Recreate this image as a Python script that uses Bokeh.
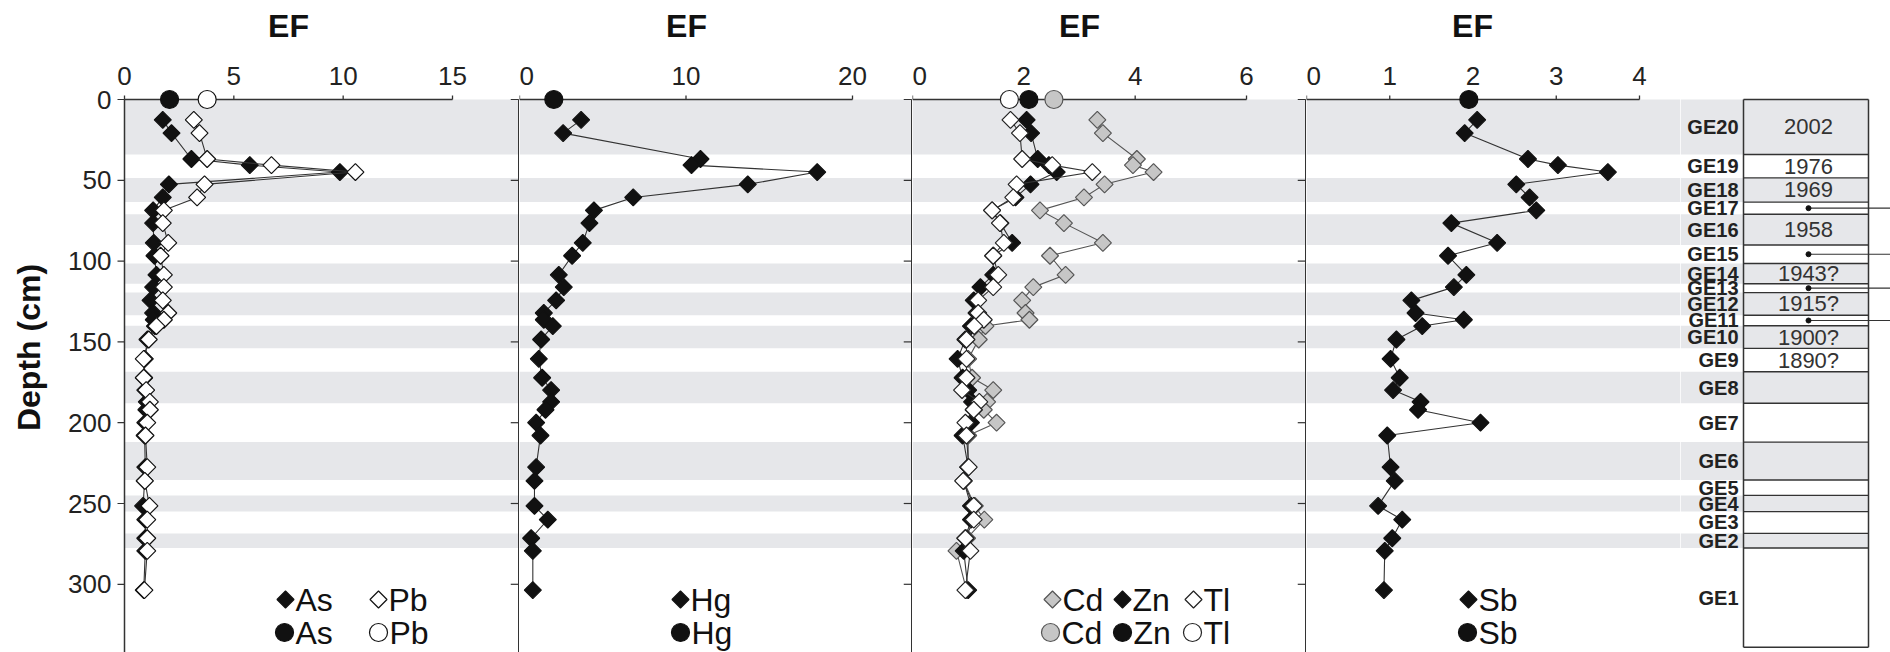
import math
from bokeh.plotting import figure
from bokeh.models import Range1d, LinearAxis, FixedTicker, Spacer
from bokeh.layouts import row, column
from bokeh.embed import file_html
from bokeh.resources import INLINE
from bokeh.core.properties import value

# ---------------- data ----------------
depth_cm = [12.6, 20.8, 36.8, 40.6, 44.9, 52.5, 60.6, 68.6, 76.5, 88.7, 96.7, 108.5,
            116.1, 124.3, 132.1, 136.3, 140.2, 148.5, 160.5, 172.2, 179.8, 187.1,
            192.0, 200.0, 207.9, 227.5, 236.0, 251.5, 260.0, 271.5, 279.3, 303.6]

ef_as = [1.75, 2.15, 3.06, 5.73, 9.85, 2.03, 1.75, 1.31, 1.31, 1.34, 1.37, 1.46,
         1.31, 1.19, 1.31, 1.34, 1.39, 1.05, 0.93, 0.90, 0.95, 1.02, 1.00, 0.95,
         0.92, 0.95, 0.92, 0.85, 0.95, 0.95, 0.95, 0.88]
ef_pb = [3.17, 3.43, 3.78, 6.72, 10.56, 3.66, 3.32, 1.80, 1.75, 2.00, 1.65, 1.80,
         1.80, 1.75, 2.00, 1.80, 1.46, 1.11, 0.88, 0.88, 0.99, 1.16, 1.16, 1.04,
         0.96, 1.04, 0.93, 1.14, 1.04, 1.04, 1.04, 0.91]
ef_hg = [3.70, 2.62, 10.87, 10.33, 17.88, 13.71, 6.83, 4.47, 4.20, 3.80, 3.16, 2.36,
         2.66, 2.20, 1.46, 1.46, 2.00, 1.30, 1.16, 1.36, 1.90, 1.90, 1.56, 1.00,
         1.26, 1.00, 0.90, 0.90, 1.70, 0.70, 0.80, 0.80]
ef_cd = [3.32, 3.42, 4.03, 3.96, 4.33, 3.45, 3.08, 2.29, 2.72, 3.42, 2.47, 2.75,
         2.17, 1.97, 2.03, 2.10, 1.31, 1.19, 1.00, 1.07, 1.45, 1.34, 1.28, 1.51,
         1.00, 1.00, 0.92, 1.12, 1.29, 0.98, 0.79, 0.97]
ef_zn = [2.05, 2.13, 2.25, 2.45, 2.59, 2.12, 1.85, 1.43, 1.58, 1.79, 1.45, 1.45,
         1.22, 1.10, 1.15, 1.20, 1.05, 0.95, 0.81, 0.90, 1.00, 1.07, 1.10, 1.05,
         0.90, 1.00, 0.92, 1.05, 1.05, 0.95, 0.92, 1.00]
ef_tl = [1.76, 1.93, 1.97, 2.51, 3.23, 1.87, 1.81, 1.43, 1.57, 1.64, 1.45, 1.54,
         1.45, 1.18, 1.18, 1.28, 1.11, 0.97, 0.97, 0.97, 0.89, 1.20, 1.10, 0.95,
         0.97, 1.01, 0.91, 1.10, 1.10, 0.95, 1.04, 0.95]
ef_sb = [2.05, 1.90, 2.66, 3.02, 3.62, 2.52, 2.68, 2.76, 1.74, 2.29, 1.70, 1.92,
         1.77, 1.26, 1.31, 1.89, 1.39, 1.08, 1.01, 1.12, 1.04, 1.37, 1.34, 2.09,
         0.97, 1.01, 1.06, 0.86, 1.15, 1.03, 0.94, 0.93]

# surface (0 cm) reference values, drawn as circles
surface_elements = ["As", "Pb", "Hg", "Cd", "Zn", "Tl", "Sb"]
surface_ef = [2.06, 3.78, 2.06, 2.54, 2.09, 1.74, 1.95]

panel_elements = [["As", "Pb"], ["Hg"], ["Cd", "Zn", "Tl"], ["Sb"]]
panel_ticks = [[0, 5, 10, 15], [0, 10, 20], [0, 2, 4, 6], [0, 1, 2, 3, 4]]
depth_ticks = [0, 50, 100, 150, 200, 250, 300]

# core units (GE20 at top ... GE1 at bottom)
ge_names = ["GE20", "GE19", "GE18", "GE17", "GE16", "GE15", "GE14", "GE13", "GE12", "GE11",
            "GE10", "GE9", "GE8", "GE7", "GE6", "GE5", "GE4", "GE3", "GE2", "GE1"]
ge_top_cm = [0, 34, 48.5, 63.5, 71, 90, 101.5, 114, 119.5, 133.5,
             140, 154, 168.5, 188, 212, 235.5, 245, 255, 268.5, 277.5]
core_bottom_cm = 339
ge_dates = ["2002", "1976", "1969", "", "1958", "", "1943?", "", "1915?", "",
            "1900?", "1890?", "", "", "", "", "", "", "", ""]
ge_marked = ["GE17", "GE15", "GE13", "GE11"]

series = {"As": ef_as, "Pb": ef_pb, "Hg": ef_hg, "Cd": ef_cd, "Zn": ef_zn, "Tl": ef_tl, "Sb": ef_sb}

# ---------------- styling / layout (page pixels) ----------------
FONT = "Liberation Sans"
BAND = "#e6e7ea"
AXC = "#333333"
TOTAL_H = 652
TOTAL_W = 1890
STRIP_H = 53                      # strip row holding the "EF" titles
MAIN_H = TOTAL_H - STRIP_H
FRAME_TOP = 89                    # top of the depth frames
D0_Y = 99                         # page y of depth 0
PX_CM = 1.616
Y_BOTTOM = (TOTAL_H - D0_Y) / PX_CM
yr = Range1d(start=Y_BOTTOM, end=-(D0_Y - FRAME_TOP) / PX_CM)

ZERO_X = [124, 519, 912, 1306]            # page x of EF = 0 in each panel
PPU = [21.867, 16.65, 55.67, 83.25]       # px per EF unit
EDGES = [116, 519, 912, 1306, 1680, TOTAL_W]
LEFT_FRAME_TOP = 42

STY = {
    "As": ("#111111", "#111111"), "Pb": ("white", "#111111"), "Hg": ("#111111", "#111111"),
    "Cd": ("#c6c6c6", "#555555"), "Zn": ("#111111", "#111111"), "Tl": ("white", "#222222"),
    "Sb": ("#111111", "#111111"),
}
LEG_X = [([285, 378], [284, 378]), ([680], [680]),
         ([1052, 1122, 1193], [1050, 1122, 1192]), ([1468], [1467])]
LEG_Y = (599, 632)

gray_mid, gray_h = [], []
ge_bot = ge_top_cm[1:] + [core_bottom_cm]
for i, name in enumerate(ge_names):
    if int(name[2:]) % 2 == 0:
        gray_mid.append((ge_top_cm[i] + ge_bot[i]) / 2)
        gray_h.append(ge_bot[i] - ge_top_cm[i])
ge_mid = [(t + b) / 2 for t, b in zip(ge_top_cm, ge_bot)]


def plain(fig):
    fig.outline_line_color = None
    fig.xgrid.visible = False
    fig.ygrid.visible = False
    return fig


# ---------------- left column: depth tick labels and title ----------------
lw = EDGES[0]
lf = plain(figure(width=lw, height=TOTAL_H, x_range=Range1d(0, 1),
                  y_range=Range1d(start=Y_BOTTOM, end=-(D0_Y - LEFT_FRAME_TOP) / PX_CM),
                  x_axis_location=None, y_axis_location=None, toolbar_location=None,
                  output_backend="svg", min_border=0, min_border_left=lw - 1,
                  min_border_top=LEFT_FRAME_TOP, min_border_bottom=0))
la = LinearAxis(ticker=FixedTicker(ticks=depth_ticks), axis_label="Depth (cm)")
la.axis_line_color = None
la.major_tick_line_color = None
la.minor_tick_line_color = None
la.major_tick_out = 0
la.major_tick_in = 0
la.major_label_standoff = 4
la.major_label_text_font = FONT
la.major_label_text_font_size = "26px"
la.major_label_text_color = "#222222"
la.axis_label_text_font = FONT
la.axis_label_text_font_style = "bold"
la.axis_label_text_font_size = "32px"
la.axis_label_text_color = "#111111"
la.axis_label_standoff = 18
lf.add_layout(la, "left")

strips, mains = [], []
for k in range(4):
    ticks = panel_ticks[k]
    z, ppu = ZERO_X[k], PPU[k]
    # ---- strip holding the "EF" title, centred over the axis span ----
    sw = EDGES[k + 1] - EDGES[k]
    centre = z + ticks[-1] * ppu / 2
    fl = round(centre - 150)
    s = plain(figure(width=sw, height=STRIP_H, x_range=Range1d(0, 1), y_range=Range1d(0, 1),
                     x_axis_location=None, y_axis_location=None, toolbar_location=None,
                     output_backend="svg", min_border=0, min_border_left=fl - EDGES[k],
                     min_border_right=EDGES[k + 1] - fl - 300, min_border_bottom=0,
                     title="EF"))
    s.title.align = "center"
    s.title.vertical_align = "top"
    s.title.standoff = 14
    s.title.text_font = FONT
    s.title.text_font_size = "32px"
    s.title.text_font_style = "bold"
    s.title.text_color = "#111111"
    strips.append(s)

    # ---- main depth panel ----
    W = EDGES[k + 1] - EDGES[k]
    x0 = (EDGES[k] - z) / ppu
    xend = (EDGES[k + 1] - z) / ppu
    p = plain(figure(width=W, height=MAIN_H, x_range=Range1d(x0, xend), y_range=yr,
                     x_axis_location="above", y_axis_location=None, toolbar_location=None,
                     output_backend="svg", min_border=0,
                     min_border_top=FRAME_TOP - STRIP_H))
    ax = p.xaxis[0]
    ax.ticker = FixedTicker(ticks=ticks)
    ax.axis_line_color = None
    ax.major_tick_line_color = None
    ax.minor_tick_line_color = None
    ax.major_tick_in = 0
    ax.major_tick_out = 0
    ax.major_label_standoff = 5
    ax.major_label_text_font = FONT
    ax.major_label_text_font_size = "26px"
    ax.major_label_text_color = "#222222"

    p.hbar(y=gray_mid, height=gray_h, left=max(x0, 0), right=xend, fill_color=BAND,
           line_color=None)

    # top axis line at depth 0 with small upward ticks
    p.segment(x0=[0], y0=[0], x1=[ticks[-1]], y1=[0], line_color=AXC, line_width=1.5)
    p.segment(x0=ticks, y0=[0] * len(ticks), x1=ticks, y1=[-4 / PX_CM] * len(ticks),
              line_color=AXC, line_width=1.3)

    if k == 0:
        # depth axis line of the first panel, ticks pointing left
        p.segment(x0=[0], y0=[0], x1=[0], y1=[Y_BOTTOM], line_color=AXC, line_width=1.5)
        p.segment(x0=[0] * len(depth_ticks), y0=depth_ticks,
                  x1=[-7 / ppu] * len(depth_ticks), y1=depth_ticks,
                  line_color=AXC, line_width=1.2)
    if k < 3:
        # the next panel's depth axis: line on this panel's right edge, ticks pointing left
        xl = xend - 0.75 / ppu
        p.segment(x0=[xl], y0=[0], x1=[xl], y1=[Y_BOTTOM], line_color=AXC, line_width=1.5)
        p.segment(x0=[xl] * len(depth_ticks), y0=depth_ticks,
                  x1=[xl - 8 / ppu] * len(depth_ticks), y1=depth_ticks,
                  line_color=AXC, line_width=1.2)

    for el in panel_elements[k]:
        fill, line = STY[el]
        p.line(x=series[el], y=depth_cm, line_color="#555555" if el == "Cd" else AXC,
               line_width=1.1)
        p.scatter(x=series[el], y=depth_cm, marker="square", angle=math.pi / 4, size=12,
                  fill_color=fill, line_color=line, line_width=1.2)
    for el in panel_elements[k]:
        fill, line = STY[el]
        i = surface_elements.index(el)
        p.scatter(x=[surface_ef[i]], y=[0], marker="circle", size=18,
                  fill_color=fill, line_color=line, line_width=1.2)

    # legend keys: diamonds = core samples, circles = surface
    xs1, xs2 = LEG_X[k]
    y1 = (LEG_Y[0] - D0_Y) / PX_CM
    y2 = (LEG_Y[1] - D0_Y) / PX_CM
    els = panel_elements[k]
    for j, el in enumerate(els):
        fill, line = STY[el]
        p.scatter(x=[(xs1[j] - z) / ppu], y=[y1], marker="square", angle=math.pi / 4, size=12,
                  fill_color=fill, line_color=line, line_width=1.2)
        p.scatter(x=[(xs2[j] - z) / ppu], y=[y2], marker="circle", size=18,
                  fill_color=fill, line_color=line, line_width=1.2)
    p.text(x=[(x - z + 10) / ppu for x in xs1], y=[y1] * len(els), text=els,
           text_align="left", text_baseline="middle", text_font=value(FONT),
           text_font_size="32px", text_color="#111111")
    p.text(x=[(x - z + 11) / ppu for x in xs2], y=[y2] * len(els), text=els,
           text_align="left", text_baseline="middle", text_font=value(FONT),
           text_font_size="32px", text_color="#111111")
    mains.append(p)

# ---------------- core column with units and dates ----------------
BOX_L, BOX_R = 1743, 1868
bppu = BOX_R - BOX_L
bw = EDGES[5] - EDGES[4]
bx0 = (EDGES[4] - BOX_L) / bppu
bx1 = (EDGES[5] - BOX_L) / bppu
q = plain(figure(width=bw, height=MAIN_H, x_range=Range1d(bx0, bx1), y_range=yr,
                 x_axis_location=None, y_axis_location=None, toolbar_location=None,
                 output_backend="svg", min_border=0, min_border_top=FRAME_TOP - STRIP_H))
q.hbar(y=gray_mid, height=gray_h, left=bx0, right=1, fill_color=BAND, line_color=None)
bounds_all = ge_top_cm + [core_bottom_cm]
q.segment(x0=[0] * len(bounds_all), y0=bounds_all, x1=[1] * len(bounds_all), y1=bounds_all,
          line_color=AXC, line_width=1.4)
q.segment(x0=[0, 1], y0=[0, 0], x1=[0, 1], y1=[core_bottom_cm] * 2,
          line_color=AXC, line_width=1.5)
q.text(x=-0.04, y=ge_mid, text=ge_names, text_align="right", text_baseline="middle",
       text_font=value(FONT), text_font_style="bold", text_font_size="20px", text_color="#222222")
dated = [(m, d) for m, d in zip(ge_mid, ge_dates) if d]
q.text(x=0.52, y=[m for m, _ in dated], text=[d for _, d in dated], text_align="center",
       text_baseline="middle", text_font=value(FONT), text_font_size="22px", text_color="#333333")
mk = [ge_mid[ge_names.index(n)] for n in ge_marked]
q.segment(x0=[0.52] * len(mk), y0=mk, x1=[1.3] * len(mk), y1=mk, line_color=AXC, line_width=1.2)
q.scatter(x=[0.52] * len(mk), y=mk, marker="circle", size=5, fill_color="#111111", line_color="#111111")
mains.append(q)
strips.append(Spacer(width=bw, height=STRIP_H))

layout = row(lf, column(row(*strips), row(*mains)))
open("out.html", "w").write(file_html(layout, INLINE))
